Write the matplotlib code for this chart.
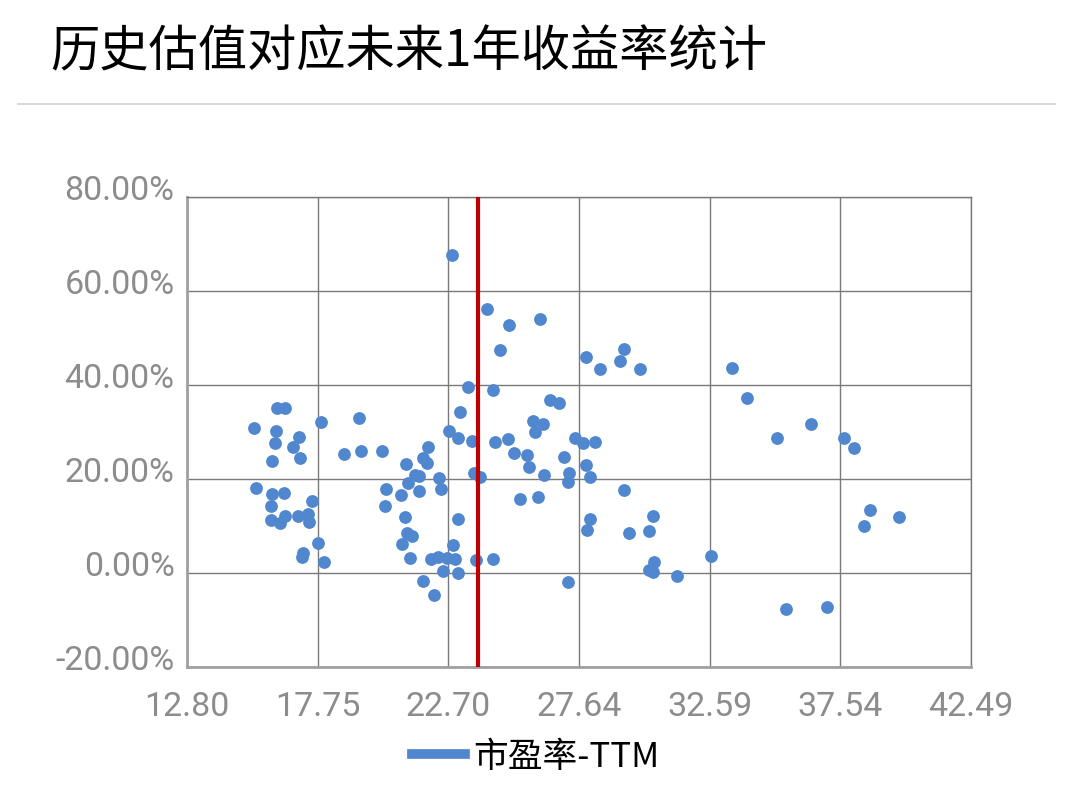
import matplotlib.pyplot as plt
import matplotlib.transforms as mtransforms
from matplotlib.lines import Line2D
from matplotlib.ticker import FuncFormatter

plt.rcParams['font.family'] = ['Noto Sans CJK SC', 'DejaVu Sans']

# 市盈率-TTM (x) 与 未来1年收益率 (y, %)
pe_ttm = [
    16.21, 16.51, 15.34, 16.17, 17.87, 19.31, 17.04, 16.13, 16.81, 17.08,
    16.02, 18.74, 19.39, 20.18, 15.41, 16.02, 16.47, 17.53, 15.98, 20.34,
    20.30, 15.98, 16.32, 16.51, 17.00, 17.38, 17.42, 17.76, 17.19, 17.15,
    17.99, 23.44, 24.39, 26.54, 26.89, 23.14, 25.90, 26.28, 25.98, 22.72,
    23.06, 23.59, 24.46, 24.95, 27.49, 21.93, 25.18, 21.09, 21.74, 21.89,
    25.67, 25.75, 27.07, 23.67, 23.89, 21.43, 21.58, 21.17, 22.34, 22.42,
    26.32, 27.26, 27.23, 20.90, 21.58, 25.41, 26.09, 21.05, 23.06, 21.13,
    21.32, 20.94, 22.87, 21.24, 22.04, 22.30, 22.64, 22.95, 23.74, 24.39,
    22.49, 23.06, 21.74, 27.23, 22.15, 22.83, 24.16, 24.99, 26.17, 24.65,
    27.91, 28.44, 29.35, 29.20, 29.95, 27.79, 28.25, 27.91, 28.06, 29.35,
    28.06, 27.95, 30.45, 30.29, 29.54, 32.64, 30.48, 30.29, 30.45, 31.35,
    33.44, 34.00, 35.14, 36.43, 37.68, 38.06, 38.66, 39.76, 38.43, 35.48,
    37.03,
]
ret_1y = [
    35.11, 35.11, 30.85, 30.21, 32.13, 32.98, 28.94, 27.66, 26.81, 24.47,
    23.83, 25.32, 25.96, 25.96, 18.09, 16.81, 17.02, 15.32, 14.26, 17.87,
    14.26, 11.28, 10.64, 12.13, 12.13, 12.55, 10.85, 6.38, 4.26, 3.40,
    2.34, 39.57, 38.94, 36.81, 36.17, 34.26, 32.34, 31.70, 30.00, 30.21,
    28.72, 28.09, 27.87, 28.51, 28.72, 26.81, 25.53, 23.19, 24.47, 23.40,
    25.11, 22.55, 24.68, 21.28, 20.43, 20.85, 20.64, 19.15, 20.21, 17.87,
    20.85, 21.28, 19.36, 16.60, 17.45, 15.74, 16.17, 11.91, 11.49, 8.51,
    7.87, 6.17, 5.96, 3.19, 2.98, 3.40, 3.19, 2.98, 2.77, 2.98,
    0.43, 0.00, -1.70, -1.91, -4.68, 67.66, 56.17, 52.77, 54.04, 47.45,
    45.96, 43.40, 47.66, 45.11, 43.40, 27.66, 27.87, 22.98, 20.43, 17.66,
    11.49, 9.15, 12.13, 8.94, 8.51, 3.62, 2.34, 0.64, 0.21, -0.64,
    43.62, 37.23, 28.72, 31.70, 28.72, 26.60, 13.40, 11.91, 10.00, -7.66,
    -7.23,
]

current_pe = 23.82
x_ticks = [12.80, 17.75, 22.70, 27.64, 32.59, 37.54, 42.49]
y_ticks = [-20, 0, 20, 40, 60, 80]

title = '历史估值对应未来1年收益率统计'
legend_label = '市盈率-TTM'

blue = '#5087CF'
grid_c = '#7a7a7a'
tick_c = '#8c8c8c'

fig = plt.figure(figsize=(10.75, 7.92), dpi=100)
fig.patch.set_facecolor('white')

# 标题 + 分隔线
fig.text(50 / 1075, 1 - 52 / 792, title, fontsize=35.5, color='black',
         va='center', ha='left', fontweight='medium')
fig.add_artist(Line2D([18 / 1075, 1055 / 1075], [1 - 104 / 792, 1 - 104 / 792],
                      color='#d0d0d0', lw=1.2))

ax = fig.add_axes([187 / 1075, 1 - 667 / 792, 784 / 1075, 470 / 792])
ax.scatter(pe_ttm, ret_1y, s=85, color=blue, zorder=3, linewidths=0)
ax.axvline(current_pe, color='#C00000', lw=3, zorder=4)

ax.set_xlim(x_ticks[0], x_ticks[-1])
ax.set_ylim(y_ticks[0], y_ticks[-1])
ax.set_xticks(x_ticks)
ax.set_yticks(y_ticks)
ax.xaxis.set_major_formatter(FuncFormatter(lambda v, p: '{:.2f}'.format(v)))
ax.yaxis.set_major_formatter(FuncFormatter(lambda v, p: '{:.2f}%'.format(v)))
ax.tick_params(axis='both', length=0, labelsize=24.5, labelcolor=tick_c)
ax.tick_params(axis='x', pad=17)
ax.tick_params(axis='y', pad=9)
for lab in ax.get_xticklabels() + ax.get_yticklabels():
    lab.set_family(['Roboto', 'DejaVu Sans'])
# y 轴标签略高于网格线
up = mtransforms.ScaledTranslation(0, 9 / 100, fig.dpi_scale_trans)
for lab in ax.get_yticklabels():
    lab.set_transform(lab.get_transform() + up)

ax.grid(True, color=grid_c, lw=1, zorder=0)
for side in ['top', 'right']:
    ax.spines[side].set_color(grid_c)
    ax.spines[side].set_linewidth(1)
for side in ['left', 'bottom']:
    ax.spines[side].set_color('#a0a0a0')
    ax.spines[side].set_linewidth(2)

# 图例
handle = Line2D([], [], color=blue, lw=7)
fig.legend([handle], [legend_label], loc='center', bbox_to_anchor=(536 / 1075, 1 - 757 / 792),
           frameon=False, fontsize=25, handlelength=1.5, handletextpad=0.25)

fig.savefig('out.png', dpi=100, facecolor='white')
